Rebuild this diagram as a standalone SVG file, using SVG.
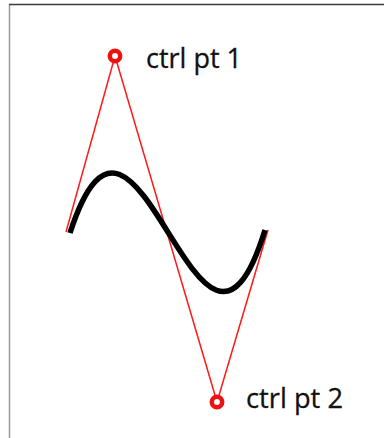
<svg xmlns="http://www.w3.org/2000/svg" width="384" height="438" viewBox="0 0 384 438">
<style>
.frame-top{stroke:#3a3a3a;stroke-width:1.5;fill:none}
.frame-left{stroke:#9a9a9a;stroke-width:1.5;fill:none}
.ctrl{stroke:#ff1a1a;stroke-width:1.5;fill:none}
.curve{stroke:#000;stroke-width:5.5;fill:none;stroke-linecap:butt}
.pt{stroke:#ee1111;stroke-width:4.5;fill:#fff}
.lbl{font-family:"Open Sans","Liberation Sans",sans-serif;font-size:27px;fill:#111;stroke:#111;stroke-width:0.3}
</style>
<rect width="384" height="438" fill="#fff"/>
<line class="frame-left" x1="9.5" y1="4" x2="9.5" y2="438"/>
<line class="frame-top" x1="9" y1="4.5" x2="384" y2="4.5"/>
<g id="connectors">
<polyline class="ctrl" points="66,232 115,56 217,402 268,230"/>
</g>
<g id="curve">
<path class="curve" d="M70,233 C137,25 200,441 265,230"/>
</g>
<g id="ctrl-pt-1">
<circle class="pt" cx="115" cy="56" r="5.2"/>
<text class="lbl" x="146" y="68" textLength="96" lengthAdjust="spacingAndGlyphs">ctrl pt 1</text>
</g>
<g id="ctrl-pt-2">
<circle class="pt" cx="217" cy="402" r="5.2"/>
<text class="lbl" x="246" y="408" textLength="97" lengthAdjust="spacingAndGlyphs">ctrl pt 2</text>
</g>
</svg>
